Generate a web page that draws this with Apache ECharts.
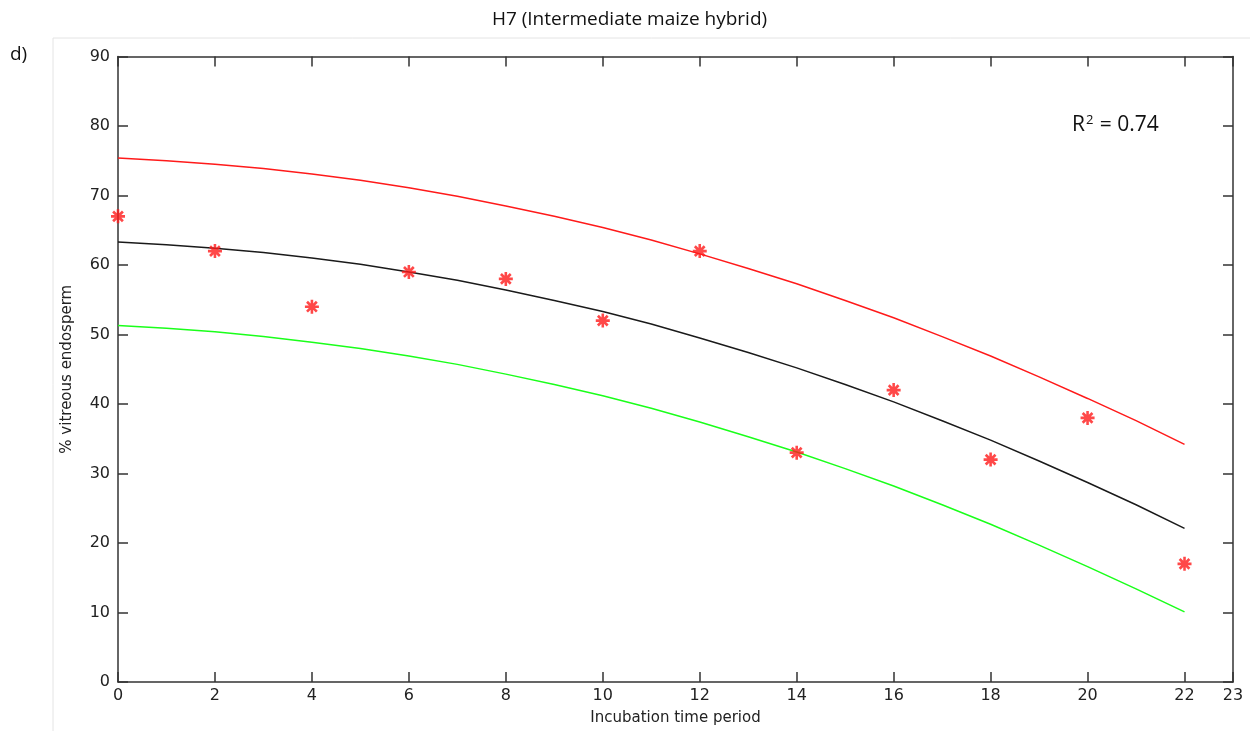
<!DOCTYPE html>
<html>
<head>
<meta charset="utf-8">
<script src="https://cdn.jsdelivr.net/npm/echarts@6/dist/echarts.min.js"></script>
<style>
  html, body { margin: 0; padding: 0; background: #fff; }
  #chart { width: 1259px; height: 731px; }
</style>
</head>
<body>
<div id="chart"></div>
<script>
// Incubation time (x) and measured % vitreous endosperm
const sampleTimes = [0, 2, 4, 6, 8, 10, 12, 14, 16, 18, 20, 22];
const observed    = [67, 62, 54, 59, 58, 52, 62, 33, 42, 32, 38, 17];

// Fitted curve and its upper / lower bounds, read at each integer time step
const curveTimes = [0, 1, 2, 3, 4, 5, 6, 7, 8, 9, 10, 11, 12, 13, 14, 15, 16, 17, 18, 19, 20, 21, 22];
const fitted     = [63.3, 62.9, 62.4, 61.8, 61.0, 60.1, 59.0, 57.8, 56.4, 54.9, 53.3, 51.5, 49.5, 47.4, 45.2, 42.8, 40.3, 37.6, 34.8, 31.8, 28.7, 25.5, 22.1];
const upperBound = [75.4, 75.0, 74.5, 73.9, 73.1, 72.2, 71.1, 69.9, 68.5, 67.0, 65.4, 63.6, 61.6, 59.5, 57.3, 54.9, 52.4, 49.7, 46.9, 43.9, 40.8, 37.6, 34.2];
const lowerBound = [51.3, 50.9, 50.4, 49.7, 48.9, 48.0, 46.9, 45.7, 44.3, 42.8, 41.2, 39.4, 37.4, 35.3, 33.1, 30.7, 28.2, 25.5, 22.7, 19.7, 16.6, 13.4, 10.1];

const xTicks = { min: 0, max: 23, interval: 2 };
const yTicks = { min: 0, max: 90, interval: 10 };

const pairs = (xs, ys) => xs.map((x, i) => [x, ys[i]]);

// asterisk marker: vertical, horizontal and two diagonal bars, all same winding
const asterisk = 'path://M-1.1 -6 L1.1 -6 L1.1 6 L-1.1 6 Z ' +
  'M-6 -1.1 L6 -1.1 L6 1.1 L-6 1.1 Z ' +
  'M-5 -3.4 L-3.4 -5 L5 3.4 L3.4 5 Z ' +
  'M-5 3.4 L3.4 -5 L5 -3.4 L-3.4 5 Z';

const tickFont = { fontFamily: 'DejaVu Sans, sans-serif', fontSize: 16, color: '#222' };
const nameFont = { fontFamily: 'DejaVu Sans, sans-serif', fontSize: 15, color: '#222' };
const axisLine = { show: true, onZero: false, lineStyle: { color: '#333', width: 1.5 } };
const tickStyle = { show: true, inside: true, length: 10, lineStyle: { color: '#333', width: 1.5 } };

const chart = echarts.init(document.getElementById('chart'), null, { renderer: 'canvas' });
chart.setOption({
  animation: false,
  backgroundColor: '#fff',
  title: {
    text: 'H7 (Intermediate maize hybrid)',
    left: 'center',
    top: 5,
    textStyle: { fontFamily: 'Open Sans, sans-serif', fontSize: 19, fontWeight: 'normal', color: '#111' }
  },
  graphic: [
    {
      type: 'polyline',
      shape: { points: [[53, 731], [53, 38], [1250, 38]] },
      style: { stroke: '#e4e4e4', fill: null, lineWidth: 1 },
      silent: true
    },
    {
      type: 'text', left: 10, top: 45,
      style: { text: 'd)', fontFamily: 'Open Sans, sans-serif', fontSize: 19, fill: '#111' }
    },
    {
      type: 'text', left: 1072, top: 114,
      style: {
        text: 'R{sup|2} = 0.74',
        fontFamily: 'Open Sans, sans-serif', fontSize: 21, fill: '#111',
        rich: { sup: { fontSize: 13, verticalAlign: 'top', padding: [0, 1, 9, 1], fontFamily: 'Open Sans, sans-serif', fill: '#111' } }
      }
    }
  ],
  grid: { left: 118, right: 26, top: 56.5, bottom: 48.5, containLabel: false },
  xAxis: [
    {
      type: 'value', position: 'bottom',
      min: xTicks.min, max: xTicks.max, interval: xTicks.interval,
      name: 'Incubation time period', nameLocation: 'middle', nameGap: 29,
      nameTextStyle: nameFont,
      axisLine: axisLine, axisTick: tickStyle,
      axisLabel: Object.assign({ margin: 6, showMaxLabel: true, showMinLabel: true }, tickFont),
      splitLine: { show: false }
    },
    {
      type: 'value', position: 'top',
      min: xTicks.min, max: xTicks.max, interval: xTicks.interval,
      axisLine: axisLine, axisTick: tickStyle,
      axisLabel: { show: false }, splitLine: { show: false }
    }
  ],
  yAxis: [
    {
      type: 'value', position: 'left',
      min: yTicks.min, max: yTicks.max, interval: yTicks.interval,
      name: '% vitreous endosperm', nameLocation: 'middle', nameGap: 43, nameRotate: 90,
      nameTextStyle: nameFont,
      axisLine: axisLine, axisTick: tickStyle,
      axisLabel: Object.assign({ margin: 8 }, tickFont),
      splitLine: { show: false }
    },
    {
      type: 'value', position: 'right',
      min: yTicks.min, max: yTicks.max, interval: yTicks.interval,
      axisLine: axisLine, axisTick: tickStyle,
      axisLabel: { show: false }, splitLine: { show: false }
    }
  ],
  series: [
    {
      name: 'upper', type: 'line', data: pairs(curveTimes, upperBound),
      showSymbol: false, lineStyle: { color: '#ff1a1a', width: 1.5 }, z: 2
    },
    {
      name: 'fit', type: 'line', data: pairs(curveTimes, fitted),
      showSymbol: false, lineStyle: { color: '#1a1a1a', width: 1.5 }, z: 2
    },
    {
      name: 'lower', type: 'line', data: pairs(curveTimes, lowerBound),
      showSymbol: false, lineStyle: { color: '#1aff1a', width: 1.5 }, z: 2
    },
    {
      name: 'observed', type: 'scatter', data: pairs(sampleTimes, observed),
      symbol: asterisk, symbolSize: 14,
      itemStyle: { color: '#ff1a1a' }, z: 3
    }
  ]
});
</script>
</body>
</html>
